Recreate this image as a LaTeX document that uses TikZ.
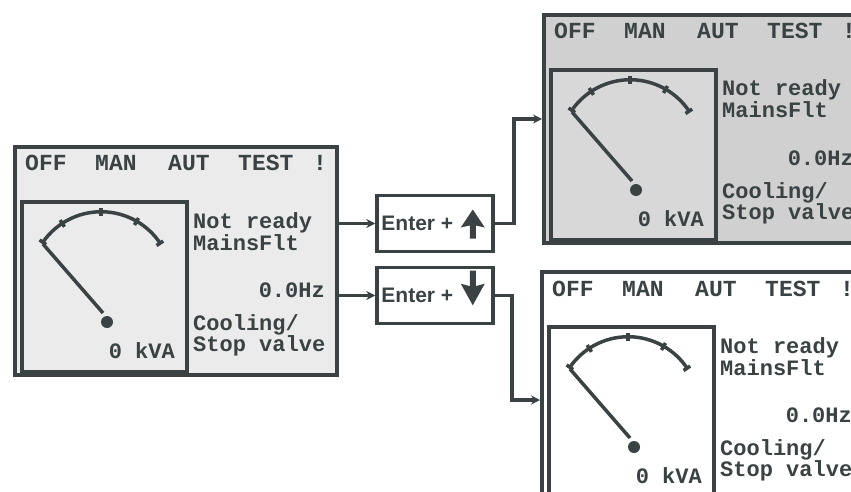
\documentclass[tikz,border=0pt]{standalone}
\usepackage{fontspec}
\newfontfamily\keyfont{Liberation Sans}
\newfontfamily\lcdfont{Liberation Mono}
\usetikzlibrary{arrows.meta, positioning}

\definecolor{ink}{HTML}{3A4244}
\definecolor{lcdlight}{HTML}{EBEBEB}
\definecolor{lcdgray}{HTML}{D0D0D0}
\definecolor{gaugegray}{HTML}{D8D8D8}

\tikzset{
  panel bg/.store in=\panelbg, panel bg=white,
  gauge bg/.store in=\gaugebg, gauge bg=white,
  frame/.style={draw=ink, line width=4, inner sep=0pt},
  lcd/.style={inner sep=0pt, text=ink, font=\lcdfont\bfseries\fontsize{22}{22}\selectfont},
  head/.style={lcd, font=\lcdfont\bfseries\fontsize{23}{23}\selectfont},
  needle/.style={draw=ink, line width=3.5},
  keybox/.style={draw=ink, line width=3.5, minimum width=116, minimum height=56},
  keylabel/.style={inner sep=0pt, text=ink, font=\keyfont\bfseries\fontsize{21}{21}\selectfont},
  link/.style={draw=ink, line width=3.5, -{Stealth[length=9pt, width=9pt]}},
  % one display of the controller
  panel/.pic={
    \node[frame, fill=\panelbg, anchor=north west, minimum width=322, minimum height=228] (-frame) at (0,0) {};
    \node[frame, fill=\gaugebg, anchor=north west, minimum width=165, minimum height=170] (-gauge) at (7,55) {};
    \node[head, anchor=base west] (-off) at (12,26) {OFF};
    \node[head, anchor=base west] (-man) at (82,26) {MAN};
    \node[head, anchor=base west] (-aut) at (155,26) {AUT};
    \node[head, anchor=base west] (-test) at (225,26) {TEST};
    \node[head, anchor=base west] (-bang) at (300,26) {!};
    \draw[needle] (30,97) arc[start angle=-145, end angle=-34, radius=71];
    \foreach \a in {-145,-123,-90,-60,-34}
      \draw[needle, shift={(88,138)}] (\a:67) -- (\a:75);
    \draw[needle] (30,99) -- (90,168);
    \fill[ink] (94,177) circle[radius=6];
    \node[lcd, anchor=base east] (-kva) at (162,213) {0 kVA};
    \node[lcd, anchor=base west] (-state) at (180,83) {Not ready};
    \node[lcd, anchor=base west] (-fault) at (180,105) {MainsFlt};
    \node[lcd, anchor=base east] (-freq) at (312,152) {0.0Hz};
    \node[lcd, anchor=base west] (-cool) at (180,185) {Cooling/};
    \node[lcd, anchor=base west] (-valve) at (180,206) {Stop valve};
  },
  keyarrow/.pic={
    \fill[ink] (0,-14) -- (12,4) -- (3,2) -- (3,15) -- (-3,15) -- (-3,2) -- (-12,4) -- cycle;
  }
}

\begin{document}
\begin{tikzpicture}[x=1pt, y=-1pt]
\useasboundingbox (0,0) rectangle (851,492);
\clip (0,0) rectangle (851,492);

\pic[panel bg=lcdlight, gauge bg=lcdlight] (L) at (13,145) {panel};
\pic[panel bg=lcdgray, gauge bg=gaugegray] (TR) at (542,13) {panel};
\pic (BR) at (540,270) {panel};

\node[keybox] (upkey) at (435,223.5) {};
\node[keylabel, right=6pt of upkey.west] (uplabel) {Enter +};
\pic at ([xshift=-22pt]upkey.east) {keyarrow};

\node[keybox] (downkey) at (435,295.5) {};
\node[keylabel, right=6pt of downkey.west] (downlabel) {Enter +};
\pic[yscale=-1.2] at ([xshift=-22pt, yshift=7pt]downkey.east) {keyarrow};

\draw[link] (L-frame.east |- upkey.west) -- (upkey.west);
\draw[link] (L-frame.east |- downkey.west) -- (downkey.west);
\draw[link] (upkey.east) -- ++(19,0) |- ([yshift=10pt]TR-frame.west);
\draw[link] (downkey.east) -- ++(17,0) |- ([yshift=-14pt]BR-frame.west);
\end{tikzpicture}
\end{document}
